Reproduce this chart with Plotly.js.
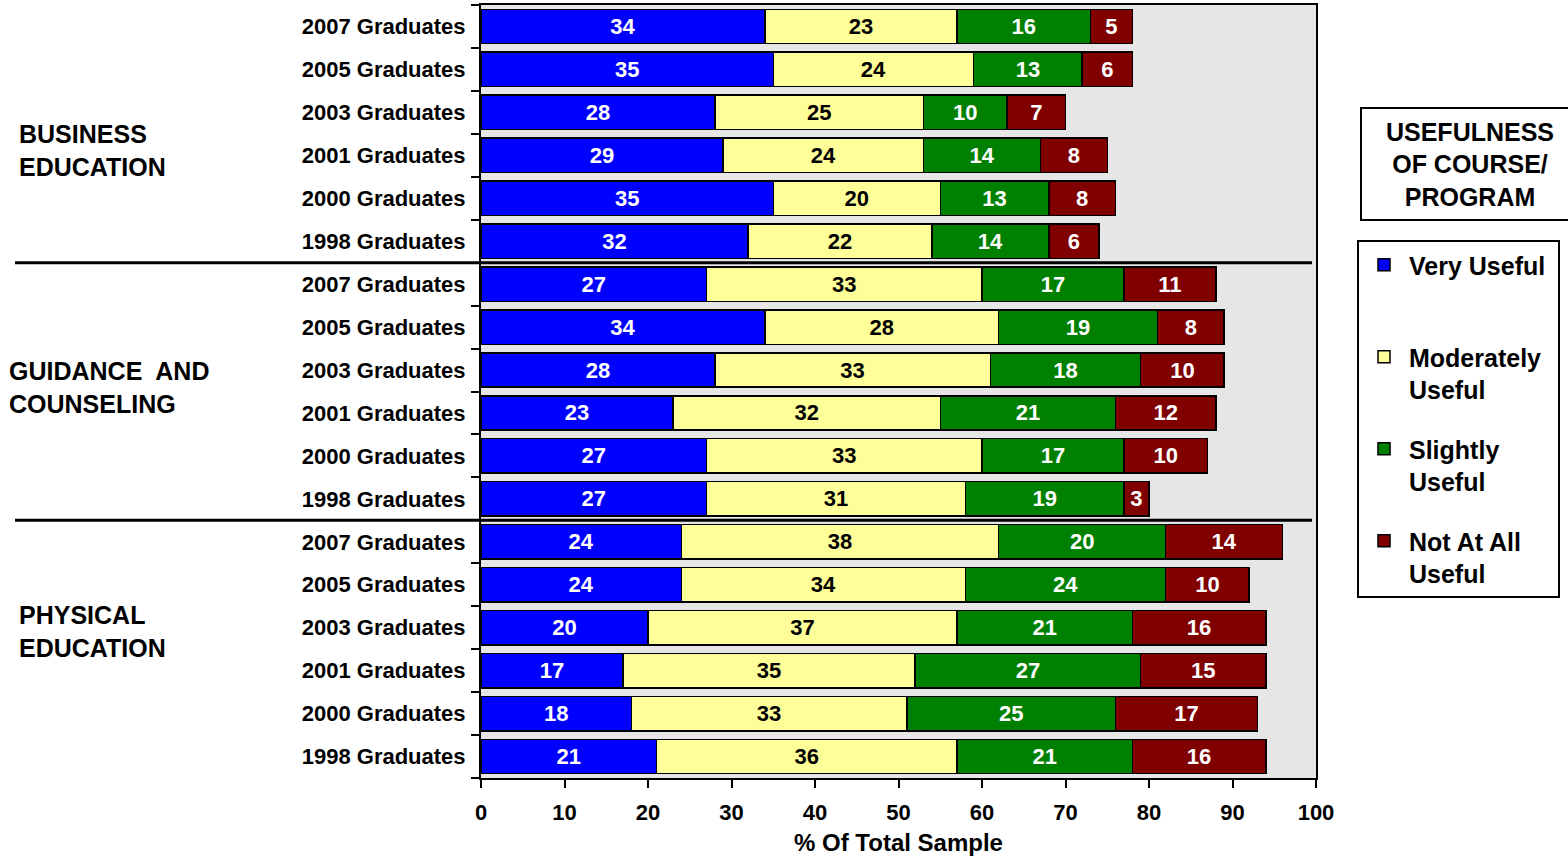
<!DOCTYPE html>
<html>
<head>
<meta charset="utf-8">
<script src="https://cdn.plot.ly/plotly-3.0.1.min.js"></script>
<style>html,body{margin:0;padding:0;background:#fff;}#chart{width:1568px;height:857px;}</style>
</head>
<body>
<div id="chart"></div>
<script>
const rowLabels = [
  "2007 Graduates","2005 Graduates","2003 Graduates","2001 Graduates","2000 Graduates","1998 Graduates",
  "2007 Graduates","2005 Graduates","2003 Graduates","2001 Graduates","2000 Graduates","1998 Graduates",
  "2007 Graduates","2005 Graduates","2003 Graduates","2001 Graduates","2000 Graduates","1998 Graduates"
];
const groupNames = ["BUSINESS<br>EDUCATION", "GUIDANCE\u00a0 AND<br>COUNSELING", "PHYSICAL<br>EDUCATION"];
const seriesNames = ["Very Useful\u00a0<br>\u00a0", "Moderately<br>Useful", "Slightly<br>Useful", "Not At All<br>Useful"];
const veryUseful       = [34,35,28,29,35,32, 27,34,28,23,27,27, 24,24,20,17,18,21];
const moderatelyUseful = [23,24,25,24,20,22, 33,28,33,32,33,31, 38,34,37,35,33,36];
const slightlyUseful   = [16,13,10,14,13,14, 17,19,18,21,17,19, 20,24,21,27,25,21];
const notAtAllUseful   = [ 5, 6, 7, 8, 8, 6, 11, 8,10,12,10, 3, 14,10,16,15,17,16];
const xTicks = [0,10,20,30,40,50,60,70,80,90,100];

const FONT = "Liberation Sans, Arial, Helvetica, sans-serif";
const colors = ["#0000FF", "#FFFF99", "#008000", "#800000"];
const textColors = ["#FFFFFF", "#000000", "#FFFFFF", "#FFFFFF"];
const allSeries = [veryUseful, moderatelyUseful, slightlyUseful, notAtAllUseful];
const yPos = rowLabels.map((_, i) => i);

const traces = allSeries.map((vals, k) => ({
  type: "bar",
  orientation: "h",
  name: seriesNames[k],
  legendgroup: "g" + k,
  x: vals,
  y: yPos,
  text: vals.map(String),
  textposition: "inside",
  insidetextanchor: "middle",
  constraintext: "none",
  textfont: {family: FONT, size: 22, color: textColors[k], weight: "bold"},
  marker: {color: colors[k], line: {color: "#000000", width: 1.5}},
  hoverinfo: "x+name"
}));

const n = rowLabels.length;
const boundaries = [];
for (let i = 0; i <= n; i++) boundaries.push(i - 0.5);

const sepY = [6, 12].map(b => (n - b) / n);
const shapes = sepY.map(y => ({
  type: "line", xref: "paper", yref: "paper",
  x0: (15 - 481) / 835, x1: (1312 - 481) / 835, y0: y, y1: y,
  line: {color: "#000000", width: 3}
}));

const groupY = [0.8124, 0.5058, 0.1889];
const groupX = [17, 7, 17];
const annotations = groupNames.map((g, i) => ({
  xref: "paper", yref: "paper",
  x: (groupX[i] - 481) / 835, y: groupY[i],
  xanchor: "left", yanchor: "middle", align: "left",
  text: "<b>" + g + "</b>", showarrow: false,
  font: {family: FONT, size: 25, color: "#000"}
}));
annotations.push({
  xref: "paper", yref: "paper",
  x: (1360 - 481) / 835, y: (778 - 164) / 773,
  xanchor: "left", yanchor: "middle", align: "center",
  text: "<b>USEFULNESS<br>OF COURSE/<br>PROGRAM</b>", showarrow: false,
  width: 212, height: 106,
  bordercolor: "#000", borderwidth: 2, borderpad: 2, bgcolor: "#fff",
  font: {family: FONT, size: 25, color: "#000"}
});

const layout = {
  width: 1568, height: 857,
  margin: {l: 481, r: 252, t: 5, b: 79},
  paper_bgcolor: "#ffffff",
  plot_bgcolor: "#E6E6E6",
  barmode: "stack",
  bargap: 0.2,
  font: {family: FONT, color: "#000"},
  xaxis: {
    range: [0, 100], tickvals: xTicks, ticktext: xTicks.map(String),
    ticks: "outside", ticklen: 8, tickwidth: 2, tickcolor: "#000",
    ticklabelstandoff: 6,
    showgrid: false, zeroline: false,
    showline: true, linecolor: "#000", linewidth: 2, mirror: true,
    tickfont: {family: FONT, size: 22, weight: "bold"},
    title: {text: "<b>% Of Total Sample</b>", font: {family: FONT, size: 24}, standoff: 10}
  },
  yaxis: {
    range: [n - 0.5, -0.5],
    tickvals: yPos, ticktext: rowLabels,
    ticks: "", ticklabelstandoff: 9,
    minor: {tickvals: boundaries, ticks: "outside", ticklen: 8, tickwidth: 2, tickcolor: "#000", showgrid: false},
    showgrid: false, zeroline: false,
    showline: true, linecolor: "#000", linewidth: 2, mirror: true,
    tickfont: {family: FONT, size: 22, weight: "bold"}
  },
  showlegend: true,
  legend: {
    x: (1357 - 481) / 835, y: (778 - 240) / 773,
    xanchor: "left", yanchor: "top",
    bordercolor: "#000", borderwidth: 2, bgcolor: "#fff",
    font: {family: FONT, size: 25, color: "#000", weight: "bold"},
    traceorder: "grouped", valign: "top", tracegroupgap: 24,
    itemwidth: 40
  },
  shapes: shapes,
  annotations: annotations
};

Plotly.newPlot("chart", traces, layout, {displayModeBar: false, staticPlot: true});
</script>
</body>
</html>
